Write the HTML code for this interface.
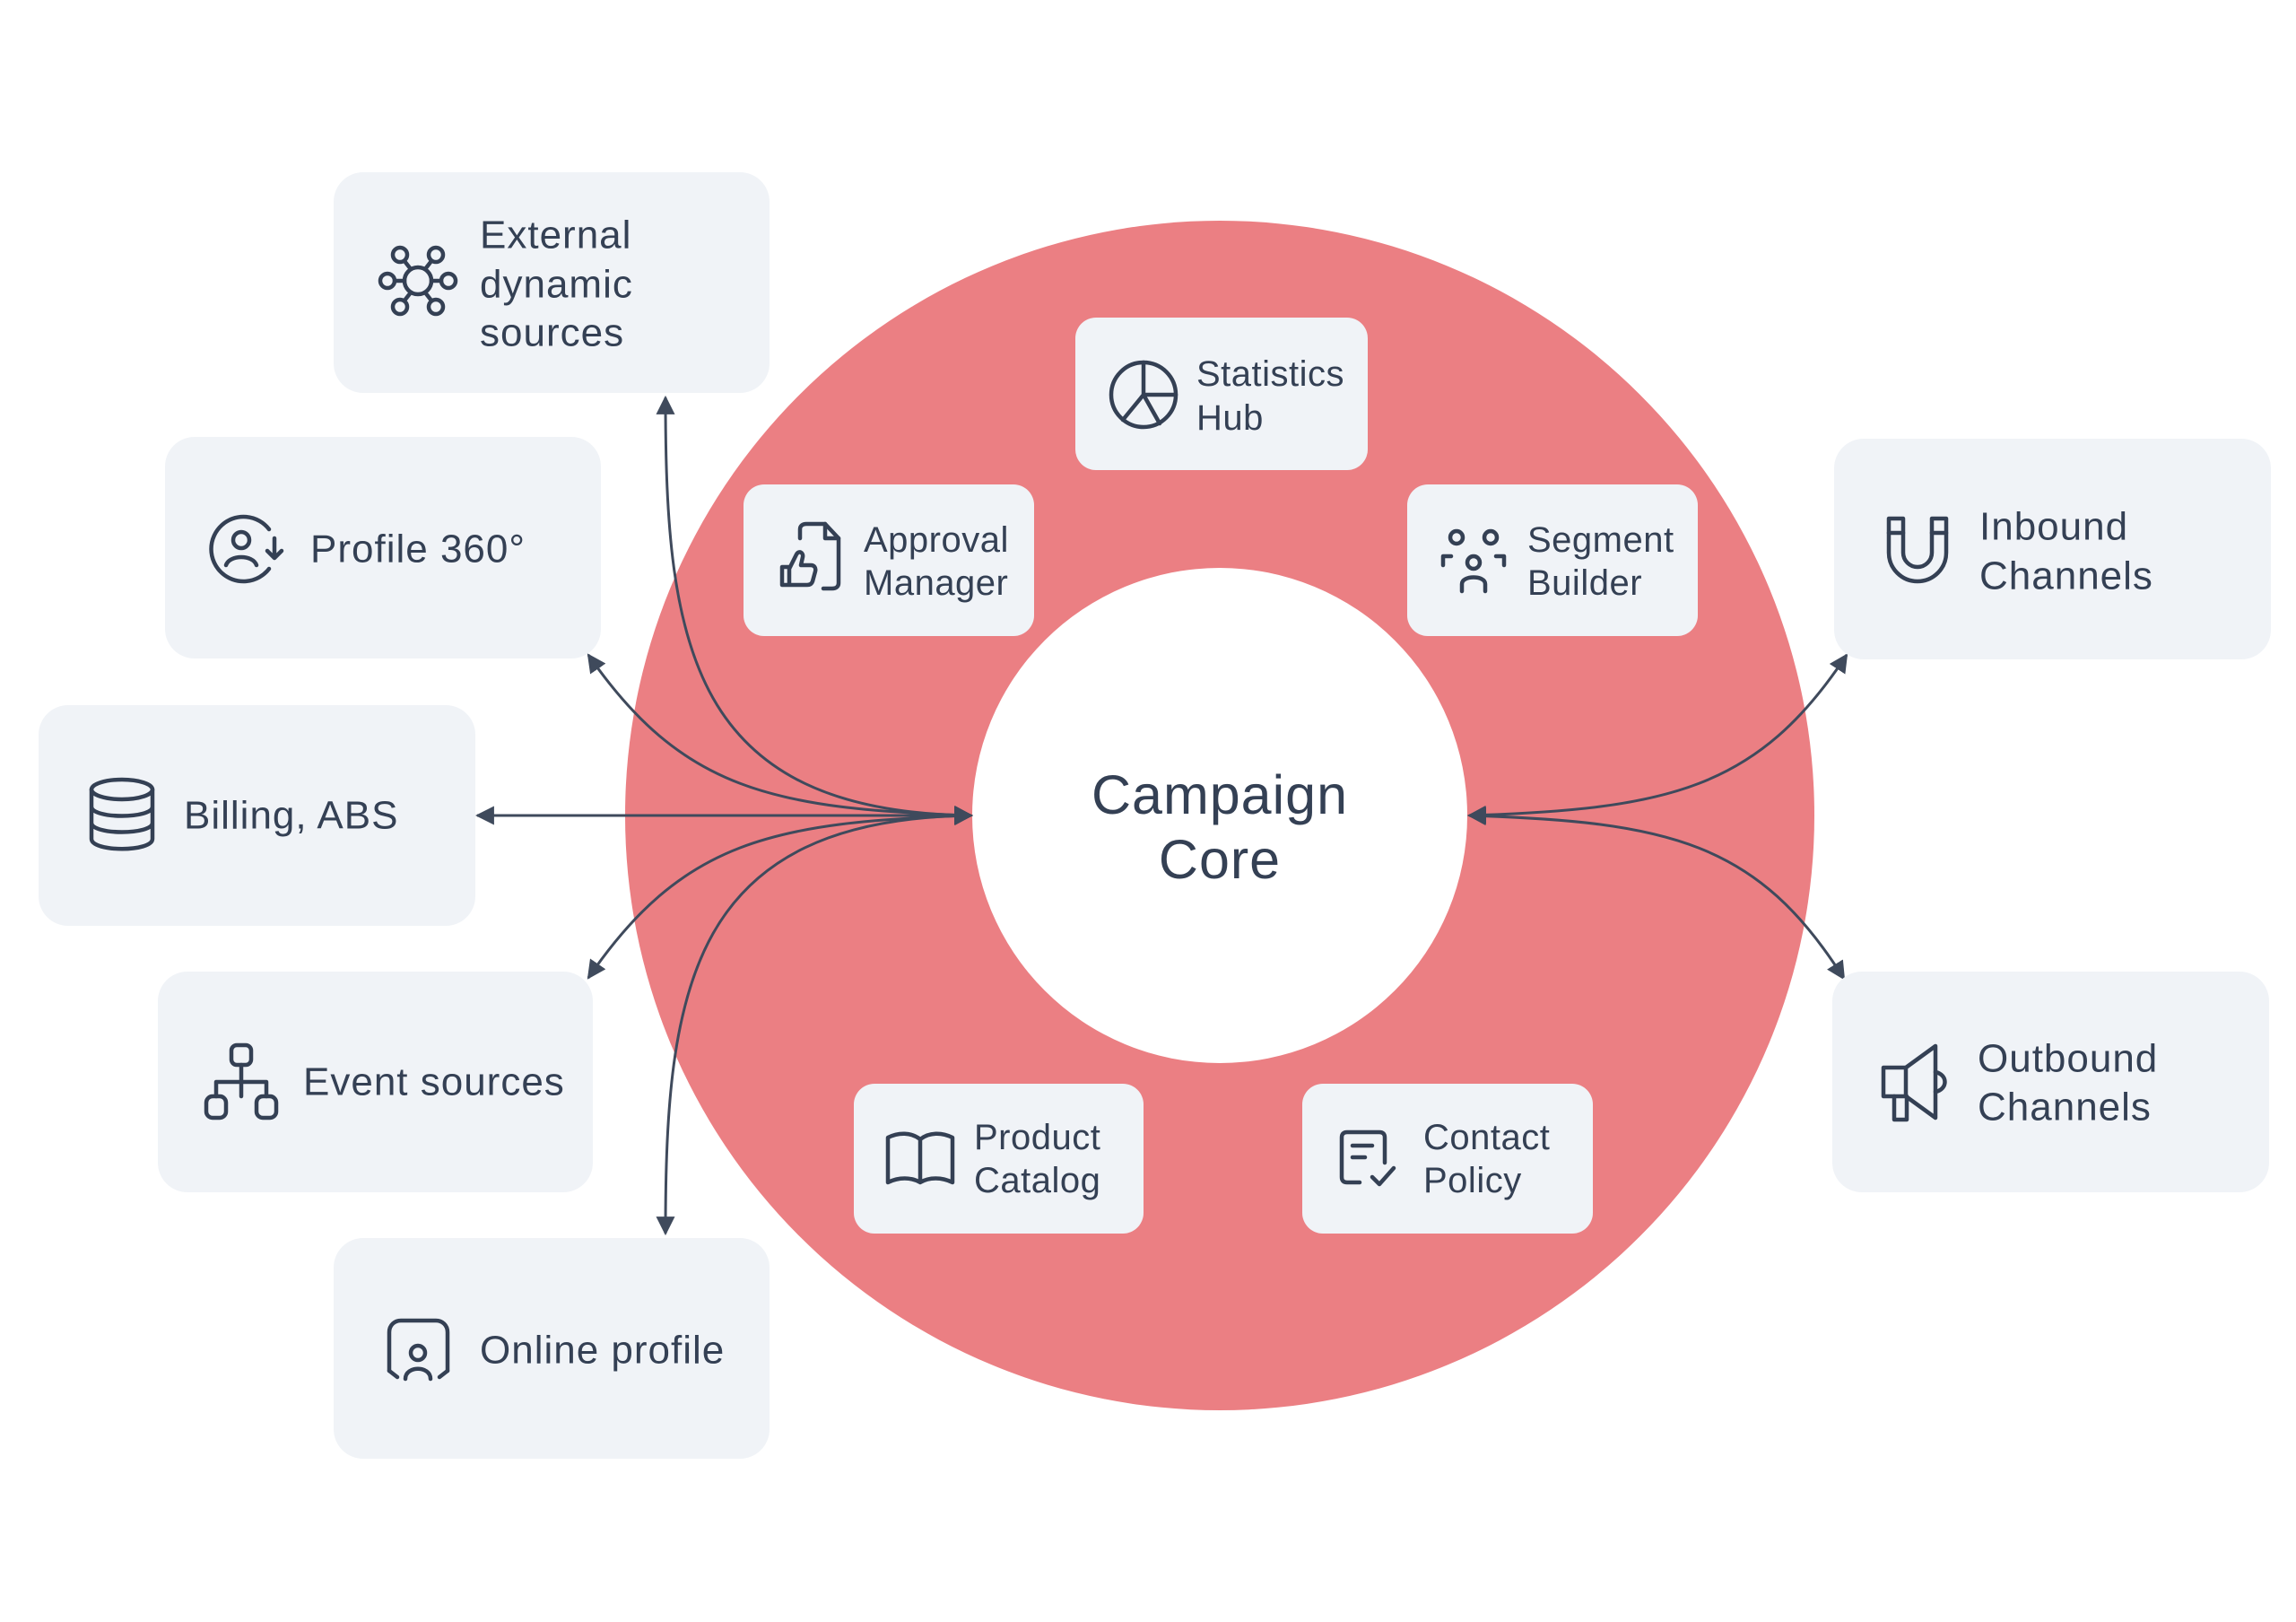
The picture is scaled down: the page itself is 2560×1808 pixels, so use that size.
<!DOCTYPE html>
<html><head><meta charset="utf-8"><style>
html,body{margin:0;padding:0;background:#fff;}
svg{display:block;}
text{font-family:"Liberation Sans",sans-serif;fill:#344054;}
.o{font-size:44px;letter-spacing:1px;}
.i{font-size:40px;letter-spacing:0.5px;}
.ic{fill:none;stroke:#344054;stroke-width:4.5;stroke-linecap:round;stroke-linejoin:round;}
.ln{fill:none;stroke:#3f4a5c;stroke-width:3;}
</style></head><body>
<svg width="2560" height="1808" viewBox="0 0 2560 1808" xmlns="http://www.w3.org/2000/svg">
<defs>
<marker id="a" viewBox="0 0 10 10" refX="9" refY="5" markerWidth="7" markerHeight="7" orient="auto-start-reverse" markerUnits="strokeWidth">
<path d="M0,0 L10,5 L0,10 z" fill="#3f4a5c"/></marker>
</defs>
<circle cx="1360" cy="909" r="663" fill="#eb7f83"/>
<circle cx="1360" cy="909" r="276" fill="#fff"/>

<g class="ln">
<path d="M1083,909 C770,905 742,720 742,443" marker-start="url(#a)" marker-end="url(#a)"/>
<path d="M1083,909 C860,902 760,880 656,730" marker-start="url(#a)" marker-end="url(#a)"/>
<path d="M1083,909 L532,909" marker-start="url(#a)" marker-end="url(#a)"/>
<path d="M1083,909 C860,916 760,938 656,1090" marker-start="url(#a)" marker-end="url(#a)"/>
<path d="M1083,909 C770,913 742,1100 742,1375" marker-start="url(#a)" marker-end="url(#a)"/>
<path d="M1638,909 C1860,902 1960,880 2059,730" marker-start="url(#a)" marker-end="url(#a)"/>
<path d="M1638,909 C1860,916 1960,938 2056,1091" marker-start="url(#a)" marker-end="url(#a)"/>
</g>

<g fill="#f0f3f7">
<rect x="372" y="192" width="486" height="246" rx="33"/>
<rect x="184" y="487" width="486" height="247" rx="33"/>
<rect x="43" y="786" width="487" height="246" rx="33"/>
<rect x="176" y="1083" width="485" height="246" rx="33"/>
<rect x="372" y="1380" width="486" height="246" rx="33"/>
<rect x="2045" y="489" width="487" height="246" rx="33"/>
<rect x="2043" y="1083" width="487" height="246" rx="33"/>
<rect x="1199" y="354" width="326" height="170" rx="23"/>
<rect x="829" y="540" width="324" height="169" rx="23"/>
<rect x="1569" y="540" width="324" height="169" rx="23"/>
<rect x="952" y="1208" width="323" height="167" rx="23"/>
<rect x="1452" y="1208" width="324" height="167" rx="23"/>
</g>

<g dominant-baseline="central">
<text class="o" x="535" y="262">External</text>
<text class="o" x="535" y="317">dynamic</text>
<text class="o" x="535" y="371">sources</text>
<text class="o" x="346" y="612">Profile 360°</text>
<text class="o" x="205" y="909">Billing, ABS</text>
<text class="o" x="338" y="1206">Event sources</text>
<text class="o" x="535" y="1505">Online profile</text>
<text class="o" x="2207" y="587">Inbound</text>
<text class="o" x="2207" y="642">Channels</text>
<text class="o" x="2205" y="1180">Outbound</text>
<text class="o" x="2205" y="1234">Channels</text>
<text class="i" x="1334" y="417">Statistics</text>
<text class="i" x="1334" y="466">Hub</text>
<text class="i" x="963" y="602">Approval</text>
<text class="i" x="963" y="650">Manager</text>
<text class="i" x="1703" y="602">Segment</text>
<text class="i" x="1703" y="650">Builder</text>
<text class="i" x="1086" y="1268">Product</text>
<text class="i" x="1086" y="1316">Catalog</text>
<text class="i" x="1587" y="1268">Contact</text>
<text class="i" x="1587" y="1316">Policy</text>
<text x="1360" y="886" text-anchor="middle" font-size="61" letter-spacing="1">Campaign</text>
<text x="1360" y="958" text-anchor="middle" font-size="61" letter-spacing="1">Core</text>
</g>

<g class="ic">
<circle cx="466" cy="313" r="15"/>
<circle cx="446" cy="284" r="8"/><circle cx="486" cy="284" r="8"/>
<circle cx="446" cy="342" r="8"/><circle cx="486" cy="342" r="8"/>
<circle cx="432" cy="313" r="8"/><circle cx="500" cy="313" r="8"/>
<path d="M451,291 L458,300 M481,291 L474,300 M451,335 L458,326 M481,335 L474,326 M440,313 L451,313 M492,313 L481,313"/>
<path d="M300,590 A36,36 0 1 0 300,634"/>
<circle cx="269" cy="602" r="9"/>
<path d="M252,630 C256,618 282,618 286,630"/>
<path d="M306,600 L306,622 M298,614 L306,622 L314,614"/>
<ellipse cx="136" cy="880" rx="34" ry="11"/>
<path d="M102,880 L102,935 C102,950 170,950 170,935 L170,880 M102,899 C102,913 170,913 170,899 M102,917 C102,931 170,931 170,917"/>
<rect x="258" y="1165" width="22" height="22" rx="6"/>
<rect x="230" y="1222" width="22" height="24" rx="7"/>
<rect x="286" y="1222" width="22" height="24" rx="7"/>
<path d="M269,1187 L269,1222 M241,1222 L241,1206 L297,1206 L297,1222"/>
<path d="M434,1528 L434,1485 C434,1477 440,1472 447,1472 L486,1472 C493,1472 499,1477 499,1485 L499,1528"/>
<path d="M434,1528 L443,1535 M499,1528 L490,1535"/>
<circle cx="466" cy="1508" r="8"/>
<path d="M452,1537 C452,1522 480,1522 480,1537"/>
<path d="M2106,578 L2106,616 A32,32 0 0 0 2170,616 L2170,578 L2154,578 L2154,616 A16,16 0 0 1 2122,616 L2122,578 Z"/>
<path d="M2106,594 L2122,594 M2154,594 L2170,594"/>
<path d="M2100,1190 L2125,1190 L2158,1166 L2158,1246 L2125,1222 L2100,1222 Z"/>
<path d="M2125,1190 L2125,1222 M2158,1195 C2172,1198 2172,1214 2158,1217"/>
<path d="M2112,1222 L2112,1248 L2126,1248 L2126,1222"/>
<circle cx="1275" cy="440" r="36"/>
<path d="M1275,404 L1275,440 L1311,440 M1275,440 L1252,468 M1275,440 L1293,472"/>
<path d="M892,600 L892,590 C892,586 895,584 899,584 L920,584 L935,600 L935,650 C935,654 932,656 928,656 L918,656"/>
<path d="M920,584 L920,600 L935,600"/>
<path d="M872,652 L872,632 L880,632 L880,652 Z M880,634 L888,618 C891,613 896,616 895,621 L893,630 L904,630 C908,630 910,633 909,637 L906,648 C905,651 903,652 900,652 L880,652"/>
<circle cx="1624" cy="599" r="7"/><circle cx="1662" cy="599" r="7"/>
<circle cx="1643" cy="627" r="7"/>
<path d="M1609,630 L1609,620 L1618,620 M1677,630 L1677,620 L1668,620"/>
<path d="M1630,659 L1630,651 C1630,641 1656,641 1656,651 L1656,659"/>
<path d="M990,1268 C1002,1262 1016,1262 1026,1270 C1036,1262 1050,1262 1062,1268 L1062,1318 C1050,1312 1036,1312 1026,1318 C1016,1312 1002,1312 990,1318 Z M1026,1270 L1026,1318"/>
<path d="M1516,1318 L1502,1318 C1498,1318 1496,1316 1496,1312 L1496,1268 C1496,1264 1498,1262 1502,1262 L1538,1262 C1542,1262 1544,1264 1544,1268 L1544,1296"/>
<path d="M1508,1277 L1530,1277 M1508,1290 L1522,1290"/>
<path d="M1530,1312 L1538,1320 L1554,1302"/>
</g>
</svg>
</body></html>
